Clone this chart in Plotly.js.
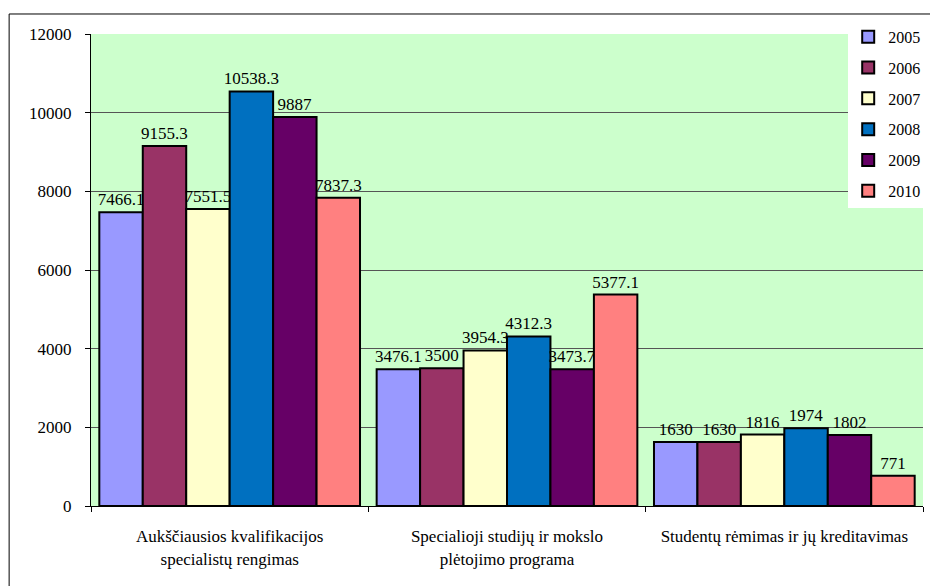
<!DOCTYPE html>
<html>
<head>
<meta charset="utf-8">
<script src="https://cdn.plot.ly/plotly-3.0.1.min.js"></script>
<style>html,body{margin:0;padding:0;background:#fff;}#chart{width:930px;height:586px;}</style>
</head>
<body>
<div id="chart"></div>
<script>
const categories = [
  "Aukščiausios kvalifikacijos<br>specialistų rengimas",
  "Specialioji studijų ir mokslo<br>plėtojimo programa",
  "Studentų rėmimas ir jų kreditavimas"
];
const years = ["2005", "2006", "2007", "2008", "2009", "2010"];
const v2005 = [7466.1, 3476.1, 1630];
const v2006 = [9155.3, 3500, 1630];
const v2007 = [7551.5, 3954.3, 1816];
const v2008 = [10538.3, 4312.3, 1974];
const v2009 = [9887, 3473.7, 1802];
const v2010 = [7837.3, 5377.1, 771];
const series = [v2005, v2006, v2007, v2008, v2009, v2010];
const colors = ["#9999FF", "#993366", "#FFFFCC", "#0070C0", "#660066", "#FF8080"];

const font = "Liberation Serif";
const traces = series.map((vals, i) => ({
  type: "bar",
  name: years[i],
  x: categories,
  y: vals,
  text: vals.map(v => String(v)),
  textposition: "outside",
  constraintext: "none",
  cliponaxis: false,
  textfont: {family: font, size: 17, color: "#000"},
  marker: {color: colors[i], line: {color: "#000", width: 2}},
  legendgroup: "g" + i,
  hoverinfo: "none"
}));

const layout = {
  width: 930, height: 586,
  margin: {l: 91, r: 6, t: 34, b: 80},
  paper_bgcolor: "#ffffff",
  plot_bgcolor: "#CCFFCC",
  barmode: "group",
  bargap: 0.06,
  bargroupgap: 0,
  font: {family: font, color: "#000"},
  showlegend: true,
  legend: {
    x: 0.909, xanchor: "left", y: 1.03, yanchor: "top",
    bgcolor: "#ffffff", borderwidth: 0,
    font: {family: font, size: 16, color: "#000"},
    tracegroupgap: 7,
    traceorder: "grouped"
  },
  xaxis: {
    type: "category",
    showline: true, linecolor: "#000", linewidth: 1,
    ticks: "outside", tickson: "boundaries", ticklen: 5, tickcolor: "#000",
    tickfont: {family: font, size: 17, color: "#000"},
    ticklabelstandoff: 15,
    showgrid: false
  },
  yaxis: {
    range: [0, 12000], dtick: 2000, tickformat: "d",
    showline: true, linecolor: "#000", linewidth: 1,
    ticks: "outside", ticklen: 5, tickcolor: "#000",
    tickfont: {family: font, size: 17, color: "#000"},
    ticklabelstandoff: 10,
    showgrid: true, gridcolor: "#555555", gridwidth: 1,
    zeroline: false
  },
  shapes: [{
    type: "rect", xref: "paper", yref: "paper",
    x0: -0.0984, x1: 1.2, y0: -0.3, y1: 1.0424,
    line: {color: "#000", width: 1}, fillcolor: "rgba(0,0,0,0)", layer: "below"
  }]
};

Plotly.newPlot("chart", traces, layout, {displayModeBar: false, staticPlot: true});
</script>
</body>
</html>
